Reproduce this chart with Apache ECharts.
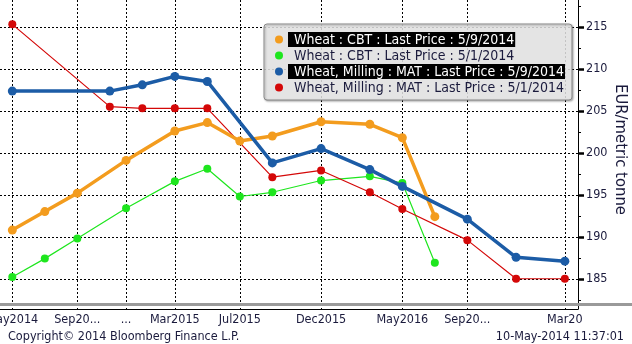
<!DOCTYPE html>
<html>
<head>
<meta charset="utf-8">
<script src="https://cdn.jsdelivr.net/npm/echarts@6/dist/echarts.min.js"></script>
<style>html,body{margin:0;padding:0;background:#fff;}#c{width:632px;height:344px;}</style>
</head>
<body>
<div id="c"></div>
<script>
// Months counted from May 2014 (0 = May2014)
const tickMonths = [0, 4, 7, 10, 14, 19, 24, 28, 34];
const tickLabels = ['May2014', 'Sep20...', '...', 'Mar2015', 'Jul2015', 'Dec2015', 'May2016', 'Sep20...', 'Mar20'];
const yTicks = [185, 190, 195, 200, 205, 210, 215];
const yMinorTicks = [182.5, 187.5, 192.5, 197.5, 202.5, 207.5, 212.5, 217.5];

const seriesNames = [
  'Wheat : CBT : Last Price : 5/9/2014',
  'Wheat : CBT : Last Price : 5/1/2014',
  'Wheat, Milling : MAT : Last Price : 5/9/2014',
  'Wheat, Milling : MAT : Last Price : 5/1/2014'
];

const cbtMonths = [0, 2, 4, 7, 10, 12, 14, 16, 19, 22, 24, 26];
const cbtNew = [190.8, 193.0, 195.2, 199.1, 202.6, 203.6, 201.4, 202.0, 203.7, 203.4, 201.8, 192.4];
const cbtOld = [185.2, 187.4, 189.8, 193.4, 196.6, 198.1, 194.8, 195.3, 196.7, 197.2, 196.4, 186.9];

const matMonths = [0, 6, 8, 10, 12, 16, 19, 22, 24, 28, 31, 34];
const matNew = [207.35, 207.35, 208.1, 209.1, 208.5, 198.8, 200.5, 198.0, 196.0, 192.1, 187.55, 187.1];
const matOld = [215.3, 205.5, 205.3, 205.3, 205.3, 197.1, 197.9, 195.3, 193.3, 189.6, 185.0, 185.0];

const FONT = '"DejaVu Sans Condensed", "DejaVu Sans", sans-serif';
const TXT = '#1a1a3c';

function pairs(ms, vs) { return ms.map((m, i) => [m, vs[i]]); }

const chart = echarts.init(document.getElementById('c'), null, {renderer: 'canvas'});
chart.setOption({
  animation: false,
  backgroundColor: '#ffffff',
  textStyle: {fontFamily: FONT},
  grid: {left: 0, right: 54, top: 0, bottom: 35, containLabel: false, outerBoundsMode: 'none'},
  title: [
    {text: 'Copyright\u00a9 2014 Bloomberg Finance L.P.', left: 3, top: 325,
     textStyle: {fontFamily: FONT, fontSize: 12.5, fontWeight: 'normal', color: TXT}},
    {text: '10-May-2014 11:37:01', right: 3, top: 325,
     textStyle: {fontFamily: FONT, fontSize: 12.5, fontWeight: 'normal', color: TXT}}
  ],
  legend: {
    orient: 'vertical',
    left: 264, top: 24,
    padding: [8, 7, 5, 11],
    itemWidth: 8, itemHeight: 8, itemGap: 1,
    icon: 'circle',
    backgroundColor: 'rgba(238,238,238,0.82)',
    borderColor: '#8a8a8a', borderWidth: 1, borderRadius: 3,
    shadowColor: 'rgba(0,0,0,0.35)', shadowBlur: 2, shadowOffsetX: 1, shadowOffsetY: 1,
    data: seriesNames,
    formatter: function (name) {
      const i = seriesNames.indexOf(name);
      return (i === 0 || i === 2) ? '{hl|' + name + '}' : '{n|' + name + '}';
    },
    textStyle: {
      fontFamily: FONT, fontSize: 14, color: TXT,
      rich: {
        hl: {fontFamily: FONT, fontSize: 14, color: '#ffffff', backgroundColor: '#000000', padding: [1, 1, 0, 6], lineHeight: 15},
        n: {fontFamily: FONT, fontSize: 14, color: TXT, padding: [1, 1, 0, 6], lineHeight: 15}
      }
    }
  },
  xAxis: {
    type: 'value',
    min: -0.757, max: 34.81,
    axisLine: {show: true, onZero: false, lineStyle: {color: '#000', width: 1}},
    axisTick: {show: false, customValues: tickMonths},
    axisLabel: {
      customValues: tickMonths,
      margin: 4,
      fontFamily: FONT, fontSize: 12.5, color: TXT,
      formatter: function (v) { const i = tickMonths.indexOf(Math.round(v)); return i >= 0 ? tickLabels[i] : ''; }
    },
    splitLine: {show: true, lineStyle: {color: '#000', width: 1, type: [2, 2]}}
  },
  yAxis: [
    {
      type: 'value', position: 'right', offset: 0,
      min: 181.4, max: 218.2,
      name: 'EUR/metric tonne', nameLocation: 'middle', nameRotate: -90, nameGap: 34,
      nameMoveOverlap: false,
      nameTextStyle: {fontFamily: FONT, fontSize: 16.5, color: TXT, padding: [0, 10, 0, 0]},
      axisLine: {show: true, onZero: false, lineStyle: {color: '#000', width: 1}},
      axisTick: {show: true, inside: false, length: 6, customValues: yTicks, lineStyle: {color: '#000', width: 2.5}},
      axisLabel: {customValues: yTicks, margin: 8, fontFamily: FONT, fontSize: 12.5, color: TXT},
      splitLine: {show: true, lineStyle: {color: '#000', width: 1, type: [2, 2]}}
    },
    {
      type: 'value', position: 'right', offset: 0,
      min: 181.4, max: 218.2,
      axisLine: {show: false, onZero: false},
      axisTick: {show: true, length: 3, customValues: yMinorTicks, lineStyle: {color: '#000', width: 1}},
      axisLabel: {show: false},
      splitLine: {show: false}
    }
  ],
  graphic: [
    {type: 'rect', left: 0, top: 303, shape: {width: 632, height: 3}, style: {fill: '#9a9a9a'}, z: 100}
  ],
  series: [
    {name: seriesNames[0], type: 'line', z: 4, data: pairs(cbtMonths, cbtNew),
     symbol: 'circle', symbolSize: 9, lineStyle: {color: '#f39c1e', width: 3.5},
     itemStyle: {color: '#f39c1e'}},
    {name: seriesNames[1], type: 'line', z: 2, data: pairs(cbtMonths, cbtOld),
     symbol: 'circle', symbolSize: 8, lineStyle: {color: '#1ee61e', width: 1.2},
     itemStyle: {color: '#1ee61e'}},
    {name: seriesNames[2], type: 'line', z: 5, data: pairs(matMonths, matNew),
     symbol: 'circle', symbolSize: 9, lineStyle: {color: '#1c5ca6', width: 3.5},
     itemStyle: {color: '#1c5ca6'}},
    {name: seriesNames[3], type: 'line', z: 3, data: pairs(matMonths, matOld),
     symbol: 'circle', symbolSize: 8, lineStyle: {color: '#d40808', width: 1.2},
     itemStyle: {color: '#d40808'}}
  ]
});
</script>
</body>
</html>
